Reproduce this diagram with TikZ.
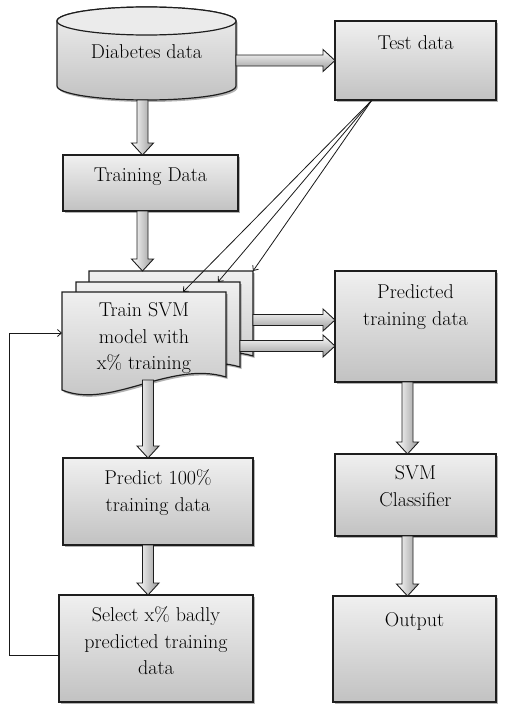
\documentclass[tikz,border=0pt]{standalone}
\usetikzlibrary{calc,arrows.meta,shadows,backgrounds}
% box text: width, height, space above first line, lines
\newcommand\boxtxt[4]{\parbox[c][#2][t]{#1}{\centering\vspace*{#3}\strut#4}}
\definecolor{edge}{HTML}{1E1E1E}
\tikzset{
  boxfont/.style={font=\fontsize{20}{26.5}\selectfont},
  shadebox/.style={top color=black!6, bottom color=black!24},
  softshadow/.style={drop shadow={shadow xshift=1.5pt, shadow yshift=-2pt, opacity=0.3, fill=black}},
  box/.style={draw=edge, line width=1.2pt, shadebox, softshadow, inner sep=0pt, outer sep=0pt, boxfont},
  page/.style={minimum width=164pt, minimum height=98pt, inner sep=0pt, outer sep=0pt, boxfont},
  docshape/.style={draw=edge, line width=1.2pt, shadebox, softshadow},
  link/.style={draw=black!90, line width=0.8pt, -{Straight Barb[length=4pt,width=7pt]}},
  blockarrow/.style={draw=edge, line width=0.9pt, to path={
    let \p1=($(\tikztotarget)-(\tikztostart)$), \n1={veclen(\x1,\y1)}, \n2={atan2(\y1,\x1)} in
    ([shift={(\tikztostart)},rotate=\n2]0pt,5.5pt)
    -- ([shift={(\tikztostart)},rotate=\n2]{\n1-12pt},5.5pt)
    -- ([shift={(\tikztostart)},rotate=\n2]{\n1-12pt},11pt)
    -- ([shift={(\tikztostart)},rotate=\n2]{\n1+0pt},0pt)
    -- ([shift={(\tikztostart)},rotate=\n2]{\n1-12pt},-11pt)
    -- ([shift={(\tikztostart)},rotate=\n2]{\n1-12pt},-5.5pt)
    -- ([shift={(\tikztostart)},rotate=\n2]0pt,-5.5pt) -- cycle}},
  vblock/.style={blockarrow, left color=white, right color=black!40},
  hblock/.style={blockarrow, top color=white, bottom color=black!40},
}
\begin{document}
\begin{tikzpicture}[x=1pt,y=-1pt]
\useasboundingbox (0,0) rectangle (521,704);

% database
\node[page, minimum width=179pt, minimum height=93pt] (db) at (146.5,53.5)
  {\boxtxt{179pt}{93pt}{33pt}{Diabetes data}};

% process boxes
\node[box] (test)  at (415.5,60.5)  {\boxtxt{161pt}{79pt}{10pt}{Test data}};
\node[box] (train) at (150.5,183)   {\boxtxt{175pt}{56pt}{8pt}{Training Data}};
\node[box] (pred)  at (415.5,326.5) {\boxtxt{161pt}{111pt}{9pt}{Predicted\\training data}};
\node[box] (svm)   at (415.5,495)   {\boxtxt{161pt}{82pt}{7pt}{SVM\\Classifier}};
\node[box] (out)   at (414.5,649)   {\boxtxt{163pt}{106pt}{12pt}{Output}};
\node[box] (p100)  at (158,501.5)   {\boxtxt{190pt}{87pt}{8pt}{Predict 100\%\\training data}};
\node[box] (sel)   at (156,648.5)   {\boxtxt{194pt}{107pt}{8pt}{Select x\% badly\\predicted training\\data}};

% stacked documents
\node[page] (l3) at (171,320) {};
\node[page] (l2) at (158,331) {};
\node[page] (l1) at (144,341) {\boxtxt{164pt}{98pt}{6pt}{Train SVM\\model with\\x\% training}};

\begin{scope}[on background layer]
  \path[docshape] (57,21) -- (57,86)
    arc[start angle=180, end angle=360, x radius=89.5pt, y radius=14pt]
    -- (236,21)
    arc[start angle=0, end angle=180, x radius=89.5pt, y radius=14pt] -- cycle;
  \path[draw=edge, line width=1.2pt, fill=black!8] (146.5,21) ellipse[x radius=89.5pt, y radius=14pt];
  \foreach \L in {l3,l2,l1}
    \path[docshape] (\L.north west) -- (\L.north east) -- ([yshift=13pt]\L.south east)
      .. controls ([xshift=-56pt,yshift=30pt]\L.south east) and ([xshift=48pt,yshift=-20pt]\L.south west)
      .. (\L.south west) -- cycle;
\end{scope}

% block arrows
\path[hblock] (db.east |- test.west) to (test.west);
\path[vblock] ([xshift=-4pt]db.south) to ([xshift=-4pt]db.south |- train.north);
\path[vblock] ([xshift=-8pt]train.south) to ([xshift=-8pt]train.south |- l3.north);
\path[hblock] (l3.east) to (l3.east -| pred.west);
\path[hblock] ([yshift=-15pt]l2.east) to ([yshift=-15pt]l2.east -| pred.west);
\path[vblock] ([xshift=4pt,yshift=10pt]l1.south) to ([xshift=4pt]l1.south |- p100.north);
\path[vblock] ([xshift=-10pt]p100.south) to ([xshift=-10pt]p100.south |- sel.north);
\path[vblock] ([xshift=-8pt]pred.south) to ([xshift=-8pt]pred.south |- svm.north);
\path[vblock] ([xshift=-8pt]svm.south) to ([xshift=-8pt]svm.south |- out.north);

% test data feeds the training stack
\coordinate (tsrc) at ([xshift=-43.5pt]test.south);
\draw[link] (tsrc) -- (l3.north east);
\draw[link] (tsrc) -- ([xshift=-22pt]l2.north east);
\draw[link] (tsrc) -- ([xshift=39pt]l1.north);

% feedback loop
\draw[link] ([yshift=-6.5pt]sel.west) -- ++(-50,0) |- ([yshift=8pt]l1.west);
\end{tikzpicture}
\end{document}
